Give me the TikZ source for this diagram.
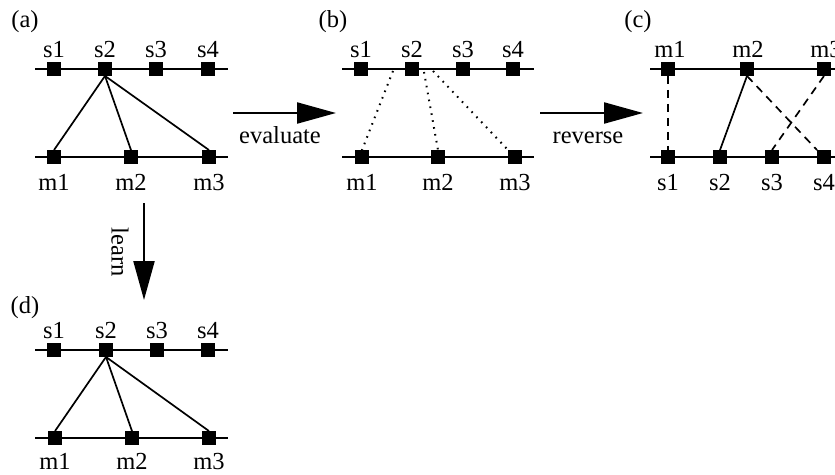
\documentclass[tikz,border=0pt]{standalone}
\usepackage{fontspec}
\setmainfont{Liberation Serif}
\usetikzlibrary{arrows.meta}
\begin{document}
\begin{tikzpicture}[x=1pt,y=-1pt,
  sq/.style={rectangle,fill=black,minimum size=13.5pt,inner sep=0pt},
  lab/.style={font=\fontsize{24.5}{29}\selectfont,anchor=base,inner sep=0pt},
  axis/.style={line width=1.8pt},
  link/.style={line width=1.7pt},
  dotlink/.style={line width=2pt,dash pattern=on 1.6pt off 5.4pt},
  dashlink/.style={line width=1.7pt,dash pattern=on 8pt off 6pt},
  bigarrow/.style={line width=2.2pt,-{Triangle[length=39pt,width=21pt]}}]
\useasboundingbox (0,0) rectangle (835,474);
\clip (0,0) rectangle (835,474);

% ---------- panel (a)
\node[lab] (la) at (25,27) {(a)};
\draw[axis] (35,69) coordinate (at0) -- (228,69) coordinate (at1);
\draw[axis] (35,157) coordinate (ab0) -- (228,157) coordinate (ab1);
\node[sq] (as1) at (54,69) {};
\node[sq] (as2) at (105,69) {};
\node[sq] (as3) at (156,69) {};
\node[sq] (as4) at (208,69) {};
\node[sq] (am1) at (54,157) {};
\node[sq] (am2) at (131,157) {};
\node[sq] (am3) at (209,157) {};
\node[lab] (las1) at (54,57) {s1};
\node[lab] (las2) at (105,57) {s2};
\node[lab] (las3) at (156,57) {s3};
\node[lab] (las4) at (208,57) {s4};
\node[lab] (lam1) at (54,190) {m1};
\node[lab] (lam2) at (131,190) {m2};
\node[lab] (lam3) at (209,190) {m3};
\draw[link] (as2.south) -- (am1.north);
\draw[link] (as2.south) -- (am2.north);
\draw[link] (as2.south) -- (am3.north);

% ---------- panel (b)
\node[lab] (lb) at (333,27) {(b)};
\draw[axis] (342,69) coordinate (bt0) -- (534,69) coordinate (bt1);
\draw[axis] (342,157) coordinate (bb0) -- (534,157) coordinate (bb1);
\node[sq] (bs1) at (361,69) {};
\node[sq] (bs2) at (412,69) {};
\node[sq] (bs3) at (463,69) {};
\node[sq] (bs4) at (513,69) {};
\node[sq] (bm1) at (362,157) {};
\node[sq] (bm2) at (438,157) {};
\node[sq] (bm3) at (515,157) {};
\node[lab] (lbs1) at (361,57) {s1};
\node[lab] (lbs2) at (412,57) {s2};
\node[lab] (lbs3) at (463,57) {s3};
\node[lab] (lbs4) at (513,57) {s4};
\node[lab] (lbm1) at (362,190) {m1};
\node[lab] (lbm2) at (438,190) {m2};
\node[lab] (lbm3) at (515,190) {m3};
\coordinate (bp1) at (393,71);
\coordinate (bp2) at (424,72);
\coordinate (bp3) at (433,71);
\draw[dotlink] (bp1) -- (bm1.north);
\draw[dotlink] (bp2) -- (bm2.north);
\draw[dotlink] (bp3) -- (bm3.north west);

% ---------- panel (c)
\node[lab] (lc) at (638,27) {(c)};
\draw[axis] (650,69) coordinate (ct0) -- (840,69) coordinate (ct1);
\draw[axis] (650,157) coordinate (cb0) -- (840,157) coordinate (cb1);
\node[sq] (cm1) at (668,69) {};
\node[sq] (cm2) at (747,69) {};
\node[sq] (cm3) at (824,69) {};
\node[sq] (cs1) at (668,157) {};
\node[sq] (cs2) at (720,157) {};
\node[sq] (cs3) at (772,157) {};
\node[sq] (cs4) at (824,157) {};
\node[lab] (lcm1) at (670,57) {m1};
\node[lab] (lcm2) at (748,57) {m2};
\node[lab] (lcm3) at (826,57) {m3};
\node[lab] (lcs1) at (668,190) {s1};
\node[lab] (lcs2) at (720,190) {s2};
\node[lab] (lcs3) at (772,190) {s3};
\node[lab] (lcs4) at (824,190) {s4};
\draw[dashlink] (cm1.south) -- (cs1.north);
\draw[link] (cm2.south) -- (cs2.north);
\draw[dashlink] (cm2.south) -- (cs4.north west);
\draw[dashlink] (cm3.south) -- (cs3.north);

% ---------- panel (d)
\node[lab] (ld) at (25,313) {(d)};
\draw[axis] (35,350) coordinate (dt0) -- (228,350) coordinate (dt1);
\draw[axis] (35,438) coordinate (db0) -- (228,438) coordinate (db1);
\node[sq] (ds1) at (54,350) {};
\node[sq] (ds2) at (106,350) {};
\node[sq] (ds3) at (157,350) {};
\node[sq] (ds4) at (208,350) {};
\node[sq] (dm1) at (55,438) {};
\node[sq] (dm2) at (132,438) {};
\node[sq] (dm3) at (209,438) {};
\node[lab] (lds1) at (54,338) {s1};
\node[lab] (lds2) at (106,338) {s2};
\node[lab] (lds3) at (157,338) {s3};
\node[lab] (lds4) at (208,338) {s4};
\node[lab] (ldm1) at (55,469) {m1};
\node[lab] (ldm2) at (132,469) {m2};
\node[lab] (ldm3) at (209,469) {m3};
\draw[link] (ds2.south) -- (dm1.north);
\draw[link] (ds2.south) -- (dm2.north);
\draw[link] (ds2.south) -- (dm3.north);

% ---------- arrows between panels
\coordinate (ev0) at (233,113);
\coordinate (ev1) at (336,113);
\draw[bigarrow] (ev0) -- (ev1);
\node[lab] (lev) at (280,143) {evaluate};
\coordinate (rv0) at (540,113);
\coordinate (rv1) at (643,113);
\draw[bigarrow] (rv0) -- (rv1);
\node[lab] (lrv) at (588,143) {reverse};
\coordinate (le0) at (144,203);
\coordinate (le1) at (144,300);
\draw[bigarrow] (le0) -- (le1);
\node[font=\fontsize{24.5}{29}\selectfont,rotate=-90,inner sep=0pt] (lle) at (120,252) {learn};
\end{tikzpicture}
\end{document}
